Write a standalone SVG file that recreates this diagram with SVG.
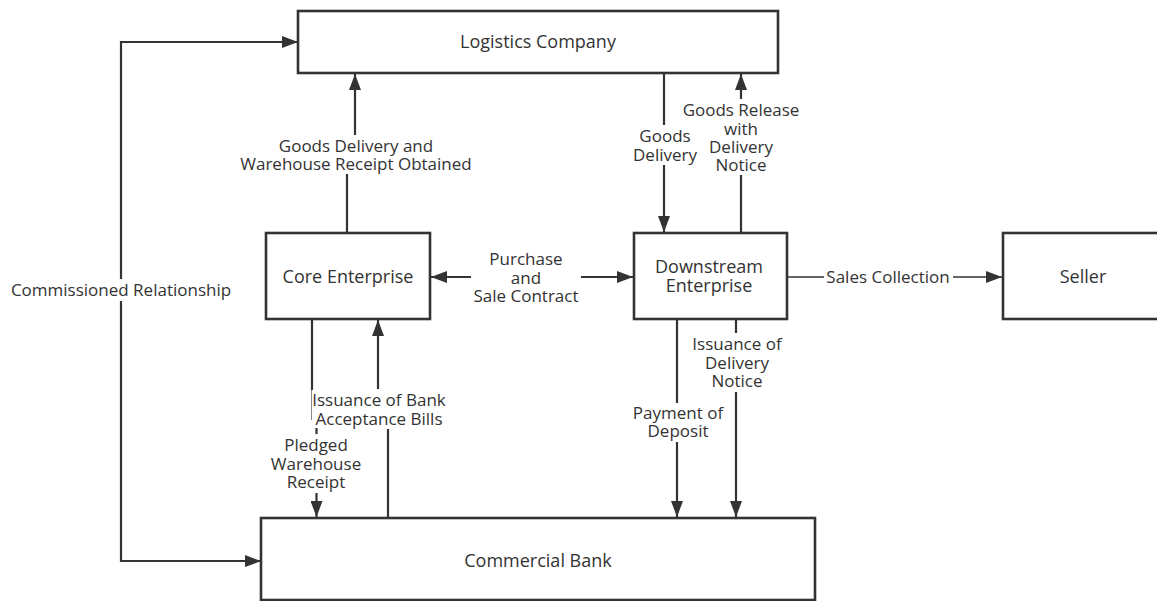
<svg xmlns="http://www.w3.org/2000/svg" width="1157" height="601" viewBox="0 0 1157 601">
<style>
.box{fill:#fff;stroke:#333;stroke-width:2.6}
.nl{font-family:"Open Sans","Noto Sans",sans-serif;font-size:18px;fill:#333;text-anchor:middle}
.el{font-family:"Open Sans","Noto Sans",sans-serif;font-size:17px;fill:#333;text-anchor:middle}
.c{fill:none;stroke:#333;stroke-width:2.2}
.thin{fill:none;stroke:#888;stroke-width:1}
</style>
<defs>
<marker id="ah" markerUnits="userSpaceOnUse" markerWidth="16" markerHeight="12" refX="16" refY="6" orient="auto">
<path d="M0,0 L16,6 L0,12 z" fill="#333"/>
</marker>
</defs>
<rect width="1157" height="601" fill="#fff"/>
<g id="connectors">
<g id="e-commissioned">
<path class="c" d="M121,279 V42 H298" marker-end="url(#ah)"/>
<path class="c" d="M121,301 V561 H261" marker-end="url(#ah)"/>
<text class="el" x="121" y="296">Commissioned Relationship</text>
</g>
<g id="e-goods-delivery-warehouse">
<path class="c" d="M347,233 V174"/>
<path class="c" d="M355,135 V74" marker-end="url(#ah)"/>
<text class="el" x="356" y="152">Goods Delivery and</text>
<text class="el" x="356" y="170">Warehouse Receipt Obtained</text>
</g>
<g id="e-goods-delivery">
<path class="c" d="M664,73 V125"/>
<path class="c" d="M664,165 V232" marker-end="url(#ah)"/>
<text class="el" x="665" y="142">Goods</text>
<text class="el" x="665" y="161">Delivery</text>
</g>
<g id="e-goods-release">
<path class="c" d="M741,233 V175"/>
<path class="c" d="M741,99 V74" marker-end="url(#ah)"/>
<text class="el" x="741" y="116">Goods Release</text>
<text class="el" x="741" y="135">with</text>
<text class="el" x="741" y="153">Delivery</text>
<text class="el" x="741" y="171">Notice</text>
</g>
<g id="e-purchase">
<path class="c" d="M471,277 H431" marker-end="url(#ah)"/>
<path class="c" d="M581,277 H633" marker-end="url(#ah)"/>
<text class="el" x="526" y="265">Purchase</text>
<text class="el" x="526" y="284">and</text>
<text class="el" x="526" y="302">Sale Contract</text>
</g>
<g id="e-sales">
<path class="c" d="M787,277 H824" style="stroke-width:1.6"/>
<path class="c" d="M953,277 H1002" style="stroke-width:1.6" marker-end="url(#ah)"/>
<text class="el" x="888" y="283">Sales Collection</text>
</g>
<g id="e-pledged">
<path class="c" d="M312,319 V390"/>
<path class="thin" d="M311.5,390 V420"/>
<path class="c" d="M316.5,428 V434"/>
<path class="c" d="M316.5,493 V517" marker-end="url(#ah)"/>
<text class="el" x="316" y="451">Pledged</text>
<text class="el" x="316" y="470">Warehouse</text>
<text class="el" x="316" y="488">Receipt</text>
</g>
<g id="e-acceptance">
<path class="c" d="M388,518 V429"/>
<path class="c" d="M378,389 V320" marker-end="url(#ah)"/>
<text class="el" x="379" y="406">Issuance of Bank</text>
<text class="el" x="379" y="425">Acceptance Bills</text>
</g>
<g id="e-deposit">
<path class="c" d="M677,319 V403"/>
<path class="c" d="M677,442 V517" marker-end="url(#ah)"/>
<text class="el" x="678" y="419">Payment of</text>
<text class="el" x="678" y="437">Deposit</text>
</g>
<g id="e-issuance-notice">
<path class="c" d="M736,319 V333"/>
<path class="c" d="M736,392 V517" marker-end="url(#ah)"/>
<text class="el" x="737" y="350">Issuance of</text>
<text class="el" x="737" y="369">Delivery</text>
<text class="el" x="737" y="387">Notice</text>
</g>
</g>
<g id="n-logistics">
<rect class="box" x="298" y="11" width="480" height="62"/>
<text class="nl" x="538" y="48">Logistics Company</text>
</g>
<g id="n-core">
<rect class="box" x="266" y="233" width="164" height="86"/>
<text class="nl" x="348" y="283">Core Enterprise</text>
</g>
<g id="n-downstream">
<rect class="box" x="634" y="233" width="153" height="86"/>
<text class="nl" x="709" y="273">Downstream</text>
<text class="nl" x="709" y="292">Enterprise</text>
</g>
<g id="n-seller">
<rect class="box" x="1003" y="233" width="162" height="86"/>
<text class="nl" x="1083" y="283">Seller</text>
</g>
<g id="n-bank">
<rect class="box" x="261" y="518" width="554" height="82"/>
<text class="nl" x="538" y="567">Commercial Bank</text>
</g>
</svg>
